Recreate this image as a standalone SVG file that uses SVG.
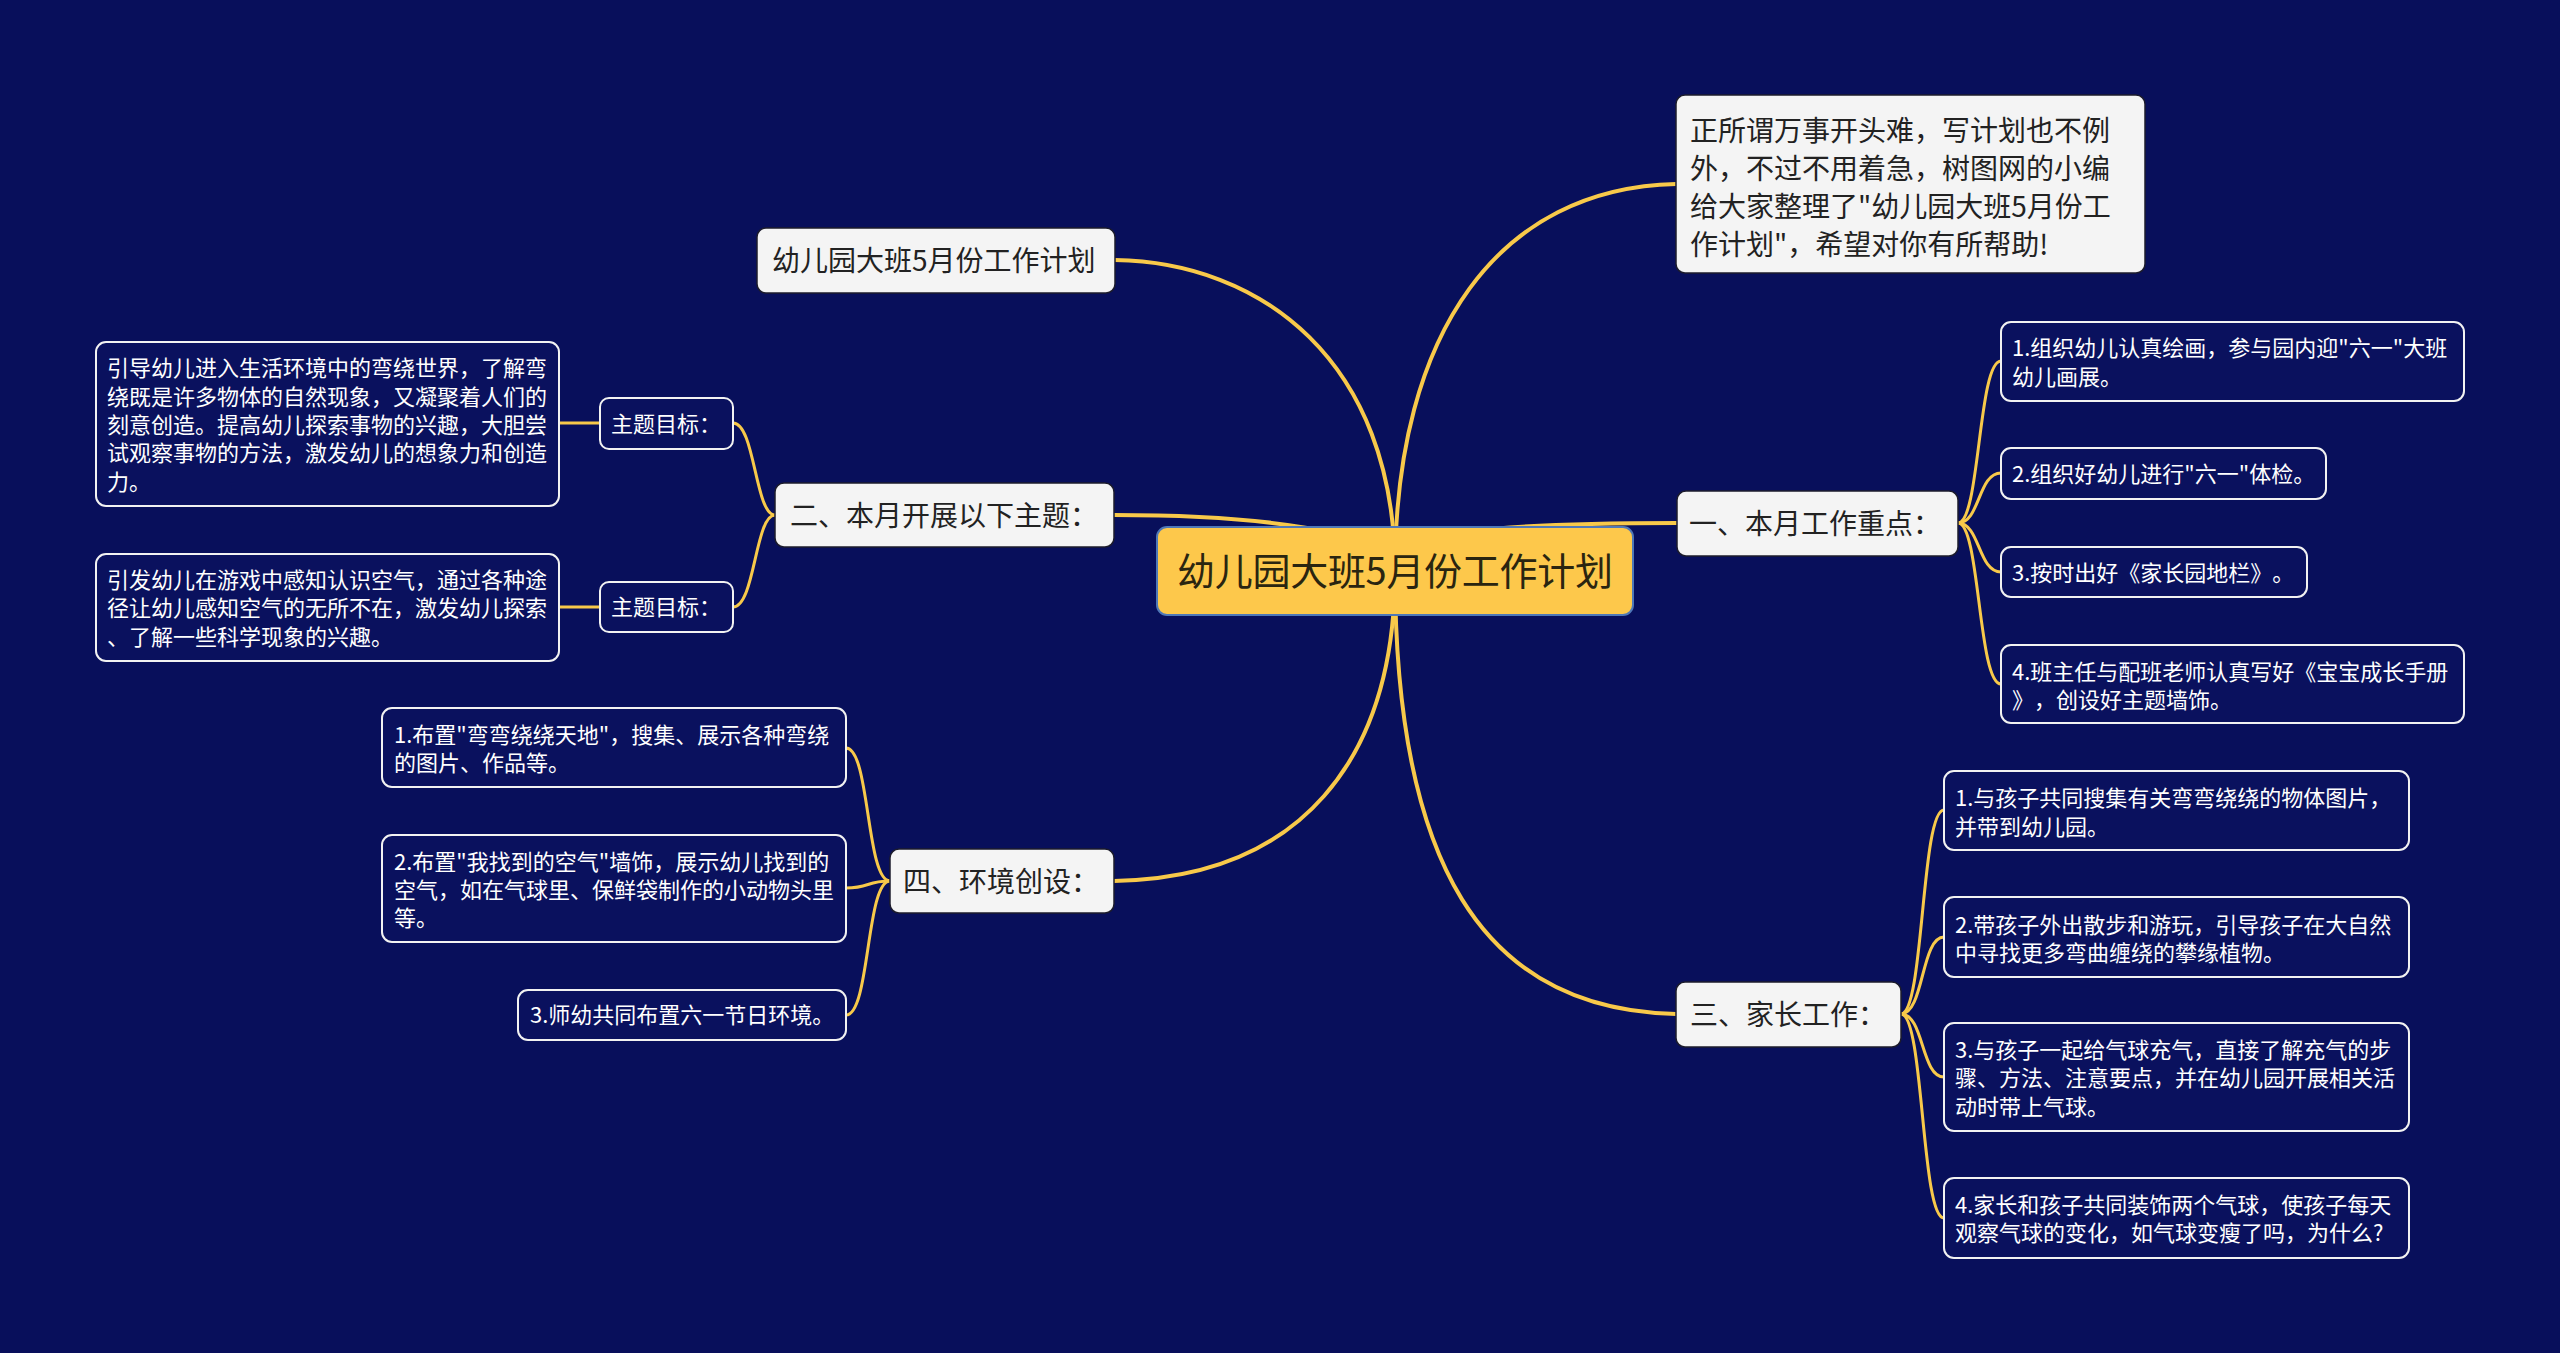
<svg xmlns="http://www.w3.org/2000/svg" width="2560" height="1353" viewBox="0 0 2560 1353">
<style>
text{font-family:"Noto Sans CJK SC","Noto Sans",sans-serif;text-spacing-trim:space-all}
.bg{fill:#080f5b}
.c-main{fill:none;stroke:#f8c94a;stroke-width:4;stroke-linecap:round}
.c-sub{fill:none;stroke:#f8c94a;stroke-width:3;stroke-linecap:round}
.root rect{fill:#fdc84b;stroke:#4f78b8;stroke-width:2}
.root text{font-size:38px;fill:#2a2510;text-anchor:middle}
.branch rect{fill:#f4f4f4;stroke:#1c1c2c;stroke-width:1.5}
.branch text{font-size:28px;fill:#222}
.leaf rect{fill:#0a115e;stroke:#f2f2f2;stroke-width:2}
.leaf text{font-size:22px;fill:#ffffff}
</style>
<rect class="bg" x="0" y="0" width="2560" height="1353"/>
<g id="connectors">
<path class="c-main" d="M1115,260 C1260,262 1395,360 1395,571"/>
<path class="c-main" d="M1114,515 C1250,515 1395,530 1395,571"/>
<path class="c-main" d="M1114,881 C1300,878 1395,760 1395,571"/>
<path class="c-main" d="M1676,184 C1500,188 1395,330 1395,571"/>
<path class="c-main" d="M1677,523 C1500,523 1395,530 1395,571"/>
<path class="c-main" d="M1676,1014 C1480,1010 1395,860 1395,571"/>
<path class="c-sub" d="M775,515 C755,515 755,423 733,423"/>
<path class="c-sub" d="M775,515 C755,515 755,607 733,607"/>
<path class="c-sub" d="M600,423 L559,423"/>
<path class="c-sub" d="M600,607 L559,607"/>
<path class="c-sub" d="M890,881 C866,881 870,748 846,748"/>
<path class="c-sub" d="M890,881 C866,881 870,888 846,888"/>
<path class="c-sub" d="M890,881 C866,881 870,1015 846,1015"/>
<path class="c-sub" d="M1958,523 C1980,523 1978,361 2001,361"/>
<path class="c-sub" d="M1958,523 C1980,523 1978,473 2001,473"/>
<path class="c-sub" d="M1958,523 C1980,523 1978,572 2001,572"/>
<path class="c-sub" d="M1958,523 C1980,523 1978,684 2001,684"/>
<path class="c-sub" d="M1901,1014 C1924,1014 1921,810 1944,810"/>
<path class="c-sub" d="M1901,1014 C1924,1014 1921,937 1944,937"/>
<path class="c-sub" d="M1901,1014 C1924,1014 1921,1077 1944,1077"/>
<path class="c-sub" d="M1901,1014 C1924,1014 1921,1218 1944,1218"/>
</g>
<g id="root" class="root">
<rect x="1157" y="527" width="476" height="88" rx="10"/>
<text x="1395" y="585" textLength="436">幼儿园大班5月份工作计划</text>
</g>
<g id="n-title" class="branch">
<rect x="757" y="228" width="358" height="65" rx="9"/>
<text x="772" y="271">幼儿园大班5月份工作计划</text>
</g>
<g id="n-intro" class="branch">
<rect x="1676" y="95" width="469" height="178" rx="9"/>
<text x="1690" y="141">正所谓万事开头难，写计划也不例</text>
<text x="1690" y="179">外，不过不用着急，树图网的小编</text>
<text x="1690" y="217">给大家整理了"幼儿园大班5月份工</text>
<text x="1690" y="255">作计划"，希望对你有所帮助!</text>
</g>
<g id="n-2" class="branch">
<rect x="775" y="483" width="339" height="64" rx="9"/>
<text x="790" y="526">二、本月开展以下主题：</text>
</g>
<g id="n-4" class="branch">
<rect x="890" y="849" width="224" height="64" rx="9"/>
<text x="903" y="892">四、环境创设：</text>
</g>
<g id="n-1" class="branch">
<rect x="1677" y="491" width="281" height="65" rx="9"/>
<text x="1689" y="534">一、本月工作重点：</text>
</g>
<g id="n-3" class="branch">
<rect x="1676" y="982" width="225" height="65" rx="9"/>
<text x="1690" y="1025">三、家长工作：</text>
</g>
<g id="n-2-goal1" class="leaf">
<rect x="600" y="398" width="133" height="51" rx="9"/>
<text x="611" y="432">主题目标：</text>
</g>
<g id="n-2-goal2" class="leaf">
<rect x="600" y="582" width="133" height="50" rx="9"/>
<text x="611" y="615">主题目标：</text>
</g>
<g id="n-2-goal1-text" class="leaf">
<rect x="96" y="342" width="463" height="164" rx="10"/>
<text x="107" y="376">引导幼儿进入生活环境中的弯绕世界，了解弯</text>
<text x="107" y="405">绕既是许多物体的自然现象，又凝聚着人们的</text>
<text x="107" y="433">刻意创造。提高幼儿探索事物的兴趣，大胆尝</text>
<text x="107" y="461">试观察事物的方法，激发幼儿的想象力和创造</text>
<text x="107" y="490">力。</text>
</g>
<g id="n-2-goal2-text" class="leaf">
<rect x="96" y="554" width="463" height="107" rx="10"/>
<text x="107" y="588">引发幼儿在游戏中感知认识空气，通过各种途</text>
<text x="107" y="616">径让幼儿感知空气的无所不在，激发幼儿探索</text>
<text x="107" y="645">、了解一些科学现象的兴趣。</text>
</g>
<g id="n-4-1" class="leaf">
<rect x="382" y="708" width="464" height="79" rx="10"/>
<text x="394" y="743">1.布置"弯弯绕绕天地"，搜集、展示各种弯绕</text>
<text x="394" y="771">的图片、作品等。</text>
</g>
<g id="n-4-2" class="leaf">
<rect x="382" y="835" width="464" height="107" rx="10"/>
<text x="394" y="870">2.布置"我找到的空气"墙饰，展示幼儿找到的</text>
<text x="394" y="898">空气，如在气球里、保鲜袋制作的小动物头里</text>
<text x="394" y="926">等。</text>
</g>
<g id="n-4-3" class="leaf">
<rect x="518" y="990" width="328" height="50" rx="10"/>
<text x="530" y="1023">3.师幼共同布置六一节日环境。</text>
</g>
<g id="n-1-1" class="leaf">
<rect x="2001" y="322" width="463" height="79" rx="10"/>
<text x="2012" y="356">1.组织幼儿认真绘画，参与园内迎"六一"大班</text>
<text x="2012" y="385">幼儿画展。</text>
</g>
<g id="n-1-2" class="leaf">
<rect x="2001" y="448" width="325" height="51" rx="10"/>
<text x="2012" y="482">2.组织好幼儿进行"六一"体检。</text>
</g>
<g id="n-1-3" class="leaf">
<rect x="2001" y="547" width="306" height="50" rx="10"/>
<text x="2012" y="581">3.按时出好《家长园地栏》。</text>
</g>
<g id="n-1-4" class="leaf">
<rect x="2001" y="645" width="463" height="78" rx="10"/>
<text x="2012" y="680">4.班主任与配班老师认真写好《宝宝成长手册</text>
<text x="2012" y="708">》，创设好主题墙饰。</text>
</g>
<g id="n-3-1" class="leaf">
<rect x="1944" y="771" width="465" height="79" rx="10"/>
<text x="1955" y="806">1.与孩子共同搜集有关弯弯绕绕的物体图片，</text>
<text x="1955" y="835">并带到幼儿园。</text>
</g>
<g id="n-3-2" class="leaf">
<rect x="1944" y="897" width="465" height="80" rx="10"/>
<text x="1955" y="933">2.带孩子外出散步和游玩，引导孩子在大自然</text>
<text x="1955" y="961">中寻找更多弯曲缠绕的攀缘植物。</text>
</g>
<g id="n-3-3" class="leaf">
<rect x="1944" y="1023" width="465" height="108" rx="10"/>
<text x="1955" y="1058">3.与孩子一起给气球充气，直接了解充气的步</text>
<text x="1955" y="1086">骤、方法、注意要点，并在幼儿园开展相关活</text>
<text x="1955" y="1115">动时带上气球。</text>
</g>
<g id="n-3-4" class="leaf">
<rect x="1944" y="1178" width="465" height="80" rx="10"/>
<text x="1955" y="1213">4.家长和孩子共同装饰两个气球，使孩子每天</text>
<text x="1955" y="1241">观察气球的变化，如气球变瘦了吗，为什么?</text>
</g>
</svg>
